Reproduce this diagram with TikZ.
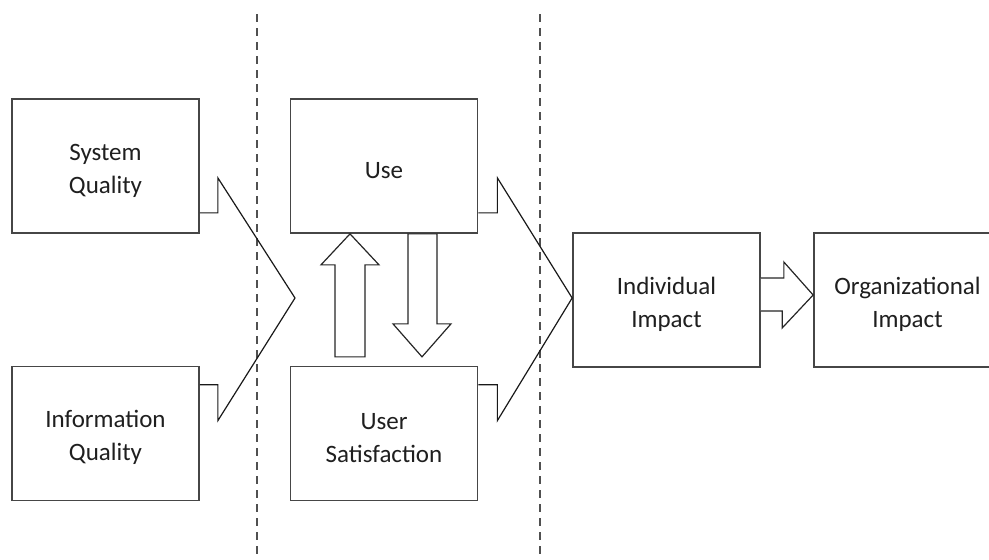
\documentclass[tikz,border=0pt]{standalone}
\usepackage{fontspec}
\setmainfont{Carlito}
\usetikzlibrary{calc}
\definecolor{edge}{RGB}{70,70,70}
\definecolor{divider}{RGB}{80,80,80}
% invisible strut that lowers a label a little inside its box
\newcommand{\tpad}{\rule{0pt}{26pt}}
\begin{document}
\begin{tikzpicture}[x=1pt,y=-1pt,
  box/.style={draw=edge, line width=1.7pt, fill=white, minimum width=187pt,
    minimum height=134pt, inner sep=0pt, align=center,
    font=\fontsize{25}{33}\selectfont, text=black!88},
  divline/.style={draw=divider, line width=2.3pt, dash pattern=on 7.5pt off 6.5pt},
  chevron/.style={draw=black!90, line width=1.2pt, line join=miter},
  blockarrow/.style={draw=black!85, line width=1.2pt, fill=white, line join=miter}]
\useasboundingbox (0,0) rectangle (989,560);

% phase dividers
\draw[divline] (257,14) -- (257,560);
\draw[divline] (540,14) -- (540,560);

% boxes
\node[box] (sq)  at (105.5,166)   {\tpad System\\Quality};
\node[box] (iq)  at (105.5,433.5) {\tpad Information\\Quality};
\node[box] (use) at (384,166)     {\tpad Use};
\node[box] (us)  at (384,433.5)   {\tpad User\\Satisfaction};
\node[box] (ii)  at (666.5,300)   {\tpad Individual\\Impact};
\node[box] (oi)  at (907.5,300)   {\tpad Organizational\\Impact};

% merging chevron: system and information quality
\coordinate (m1) at (295,298);
\draw[chevron] ($(sq.south east)+(0,-21)$) -- ++(18,0) -- ++(0,-35) -- (m1)
  -- ($(iq.north east)+(18,55)$) -- ++(0,-36) -- ($(iq.north east)+(0,19)$);

% merging chevron: use and user satisfaction
\draw[chevron] ($(use.south east)+(0,-21)$) -- ++(19,0) -- ++(0,-35) -- ($(ii.west)+(0,-2)$)
  -- ($(us.north east)+(19,55)$) -- ++(0,-36) -- ($(us.north east)+(0,19)$);

% user satisfaction -> use
\coordinate (uptip) at ($(use.south)+(-34,0)$);
\draw[blockarrow] (uptip) -- ++(29,31) -- ++(-14,0) -- ++(0,92) -- ++(-30,0)
  -- ++(0,-92) -- ++(-14,0) -- cycle;

% use -> user satisfaction
\coordinate (downtop) at ($(use.south)+(24,0)$);
\draw[blockarrow] (downtop) -- ++(29,0) -- ++(0,90) -- ++(14,0) -- ++(-29,33)
  -- ++(-29,-33) -- ++(15,0) -- cycle;

% individual -> organizational impact
\draw[blockarrow] ($(ii.east)+(0,-22)$) -- ++(23,0) -- ++(0,-16) -- ($(oi.west)+(0,-5)$)
  -- ++(-31,33) -- ++(0,-17) -- ($(ii.east)+(0,11)$);
\end{tikzpicture}
\end{document}
